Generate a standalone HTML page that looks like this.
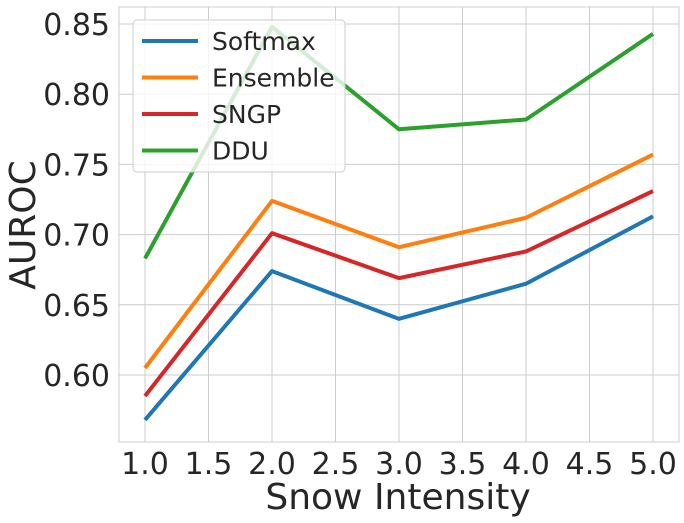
<!DOCTYPE html>
<html><head><meta charset="utf-8"><style>
body{margin:0;background:#fff;}
svg{display:block;font-family:"DejaVu Sans","Liberation Sans",sans-serif;}
</style></head><body>
<svg id="chart" width="684" height="523"></svg>
<script>
const xValues=[1,2,3,4,5];
const seriesNames=["Softmax","Ensemble","SNGP","DDU"];
const softmaxValues=[0.568,0.674,0.640,0.665,0.713];
const ensembleValues=[0.605,0.724,0.691,0.712,0.757];
const sngpValues=[0.585,0.701,0.669,0.688,0.731];
const dduValues=[0.683,0.848,0.775,0.782,0.843];
const xTicks=[1.0,1.5,2.0,2.5,3.0,3.5,4.0,4.5,5.0];
const yTicks=[0.60,0.65,0.70,0.75,0.80,0.85];
const colors=["#1f77b4","#ff7f0e","#d62728","#2ca02c"];
const allSeries=[softmaxValues,ensembleValues,sngpValues,dduValues];
const NS="http://www.w3.org/2000/svg";
const svg=document.getElementById('chart');
const L=119,R=679,T=7,B=442;
const xs=v=>145+(v-1)*(653-145)/4;
const ys=v=>24+(0.85-v)*(375-24)/0.25;
function mk(tag,attrs,parent){const e=document.createElementNS(NS,tag);for(const k in attrs)e.setAttribute(k,attrs[k]);(parent||svg).appendChild(e);return e;}
const bg=mk('rect',{x:L,y:T,width:R-L,height:B-T,fill:'#fff'});


xTicks.forEach(t=>{
  const g=mk('line',{x1:xs(t),x2:xs(t),y1:T,y2:B,stroke:'#cccccc','stroke-width':1});
  
  
  const tx=mk('text',{x:xs(t),y:474,'font-size':30,fill:'#262626','text-anchor':'middle'});
  tx.textContent=t.toFixed(1);
  
  
});
yTicks.forEach(t=>{
  const g=mk('line',{x1:L,x2:R,y1:ys(t),y2:ys(t),stroke:'#cccccc','stroke-width':1});
  
  
  const tx=mk('text',{x:110,y:ys(t)+11,'font-size':30,fill:'#262626','text-anchor':'end'});
  tx.textContent=t.toFixed(2);
  
  
});
const fr=mk('rect',{x:L,y:T,width:R-L,height:B-T,fill:'none',stroke:'#cccccc','stroke-width':1});


allSeries.forEach((vals,i)=>{
  const p=mk('polyline',{points:vals.map((v,j)=>xs(xValues[j])+','+ys(v)).join(' '),fill:'none',stroke:colors[i],'stroke-width':4,'stroke-linejoin':'round'});
  
  
});
const lg=mk('g',{});


mk('rect',{x:133,y:20,width:212,height:152,rx:4,fill:'#fff','fill-opacity':0.8,stroke:'#cccccc'},lg);
seriesNames.forEach((n,i)=>{
  const y=41+i*36.5;
  const e=mk('g',{},lg);
  
  
  mk('line',{x1:142,x2:198,y1:y,y2:y,stroke:colors[i],'stroke-width':4},e);
  const t=mk('text',{x:212,y:y+9,'font-size':25,fill:'#262626'},e);
  t.textContent=n;
});
const xl=mk('text',{x:398,y:509,'font-size':36,fill:'#262626','text-anchor':'middle'});
xl.textContent='Snow Intensity';


const yl=mk('text',{x:0,y:0,'font-size':36,fill:'#262626','text-anchor':'middle',transform:'translate(35,225) rotate(-90)'});
yl.textContent='AUROC';


</script>
</body></html>
